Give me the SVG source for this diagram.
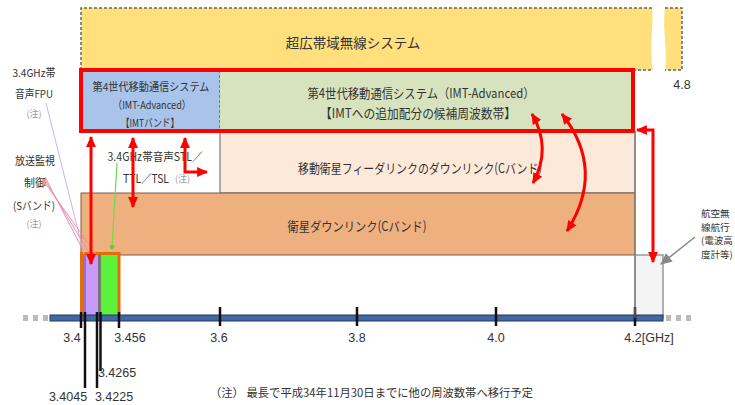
<svg xmlns="http://www.w3.org/2000/svg" width="735" height="405" viewBox="0 0 735 405">
<style>
.jp{font-family:"Noto Sans CJK JP","Noto Sans",sans-serif;fill:#333}
.num{font-family:"Liberation Sans",Arial,sans-serif;fill:#333;font-size:12.5px}
.c{text-anchor:middle;dominant-baseline:central}
.note{fill:#999;font-size:9px}
.dash{fill:none;stroke:#666;stroke-width:1.5;stroke-dasharray:3 2}
.red{fill:none;stroke:#ff0000;stroke-width:3;marker-start:url(#rh);marker-end:url(#rh)}
.tick{stroke:#111;stroke-width:2.5}
.sq{fill:#bbb}
.av{font-size:9.5px;dominant-baseline:central}
</style>
<defs>
<marker id="rh" viewBox="0 0 10 10" refX="9" refY="5" markerWidth="11" markerHeight="11" markerUnits="userSpaceOnUse" orient="auto-start-reverse"><path d="M0,0.5 L10,5 L0,9.5z" fill="#ff0000"/></marker>
<marker id="gh" viewBox="0 0 10 10" refX="9" refY="5" markerWidth="12" markerHeight="12" markerUnits="userSpaceOnUse" orient="auto"><path d="M0,0.5 L10,5 L0,9.5z" fill="#888"/></marker>
</defs>
<rect width="735" height="405" fill="#fff"/>

<g id="node-uwb">
<path d="M81,8 L652,8 C654,25 649,48 653,70 L81,70 Z" fill="#ffe07c"/>
<path class="dash" d="M81,70 L81,8 L652,8"/>
<path class="dash" d="M633,70 L652,70"/>
<path d="M665,8 L682,8 L682,70 L665,70 C668,50 662,30 665,8 Z" fill="#ffe07c"/>
<path class="dash" d="M665,8 L682,8 L682,70 L665,70"/>
<text class="jp c" x="353" y="42" font-size="13.5">超広帯域無線システム</text>
<text class="num c" x="682" y="85">4.8</text>
</g>

<g id="node-imt-band">
<rect x="81" y="70" width="139" height="61" fill="#a8c4ea"/>
<line class="dash" x1="220" y1="70" x2="220" y2="131"/>
<text class="jp c" x="151" y="86" font-size="11" textLength="117" lengthAdjust="spacingAndGlyphs">第4世代移動通信システム</text>
<text class="jp c" x="152" y="104" font-size="11" textLength="78" lengthAdjust="spacingAndGlyphs">（IMT-Advanced）</text>
<text class="jp c" x="150" y="122" font-size="11" textLength="58" lengthAdjust="spacingAndGlyphs">【IMTバンド】</text>
</g>

<g id="node-imt-candidate">
<rect x="220" y="70" width="413" height="61" fill="#d7e3bf"/>
<text class="jp c" x="421" y="92" font-size="13" textLength="227" lengthAdjust="spacingAndGlyphs">第4世代移動通信システム（IMT-Advanced）</text>
<text class="jp c" x="418" y="112" font-size="13" textLength="196" lengthAdjust="spacingAndGlyphs">【IMTへの追加配分の候補周波数帯】</text>
</g>

<g id="node-stl">
<rect x="81" y="131" width="139" height="62" fill="#fff"/>
<text class="jp c" x="155" y="156" font-size="11.5" textLength="95" lengthAdjust="spacingAndGlyphs">3.4GHz帯音声STL／</text>
<text class="jp" x="123" y="178" font-size="11.5" dominant-baseline="central" textLength="46" lengthAdjust="spacingAndGlyphs">TTL／TSL</text>
<text class="jp note" x="175" y="178" dominant-baseline="central">(注)</text>
</g>

<g id="node-mss-feeder">
<rect x="220" y="131" width="415" height="62" fill="#fde9da" stroke="#666" stroke-width="1"/>
<text class="jp c" x="420" y="167" font-size="13" textLength="244" lengthAdjust="spacingAndGlyphs">移動衛星フィーダリンクのダウンリンク(Cバンド)</text>
</g>

<g id="node-sat-downlink">
<rect x="81" y="193" width="554" height="62" fill="#eeb07e" stroke="#7a5c40" stroke-width="1"/>
<text class="jp c" x="357" y="225" font-size="13" textLength="139" lengthAdjust="spacingAndGlyphs">衛星ダウンリンク(Cバンド)</text>
</g>

<g id="node-imt-outline">
<rect x="81" y="70" width="552" height="61" fill="none" stroke="#ff0000" stroke-width="4"/>
</g>

<g id="node-aero">
<rect x="635" y="255" width="28" height="63" fill="#f4f4f4" stroke="#999" stroke-width="1.5"/>
<text class="jp av" x="701" y="213">航空無</text>
<text class="jp av" x="701" y="226.5">線航行</text>
<text class="jp av" x="701" y="240">(電波高</text>
<text class="jp av" x="701" y="253.5">度計等)</text>
</g>

<g id="node-fpu-label">
<text class="jp c" x="34" y="72" font-size="11" textLength="43" lengthAdjust="spacingAndGlyphs">3.4GHz帯</text>
<text class="jp c" x="34" y="93" font-size="11" textLength="38" lengthAdjust="spacingAndGlyphs">音声FPU</text>
<text class="jp c note" x="34" y="113">(注)</text>
</g>

<g id="node-sband-label">
<text class="jp c" x="35" y="160" font-size="11" textLength="40" lengthAdjust="spacingAndGlyphs">放送監視</text>
<text class="jp c" x="35" y="182" font-size="11">制御</text>
<text class="jp c" x="34" y="205" font-size="11" textLength="42" lengthAdjust="spacingAndGlyphs">(Sバンド)</text>
<text class="jp c note" x="34" y="223">(注)</text>
</g>

<g id="node-fpu-band">
<rect x="83" y="254" width="15" height="62" fill="#c89bfa"/>
<rect x="83" y="254" width="3" height="62" fill="#9a6cc8"/>
</g>
<g id="node-stl-band">
<rect x="98" y="254" width="3" height="62" fill="#777"/>
<rect x="101" y="254" width="17" height="62" fill="#5cf23a"/>
</g>
<g id="node-small-outline">
<rect x="81.5" y="253.5" width="37.5" height="63" fill="none" stroke="#e46c0a" stroke-width="3"/>
</g>

<g id="axis">
<rect class="sq" x="23" y="315" width="5" height="6"/>
<rect class="sq" x="33" y="315" width="5" height="6"/>
<rect class="sq" x="43" y="315" width="5" height="6"/>
<rect class="sq" x="666" y="315" width="5" height="6"/>
<rect class="sq" x="676" y="315" width="5" height="6"/>
<rect class="sq" x="686" y="315" width="5" height="6"/>
<rect x="50" y="315" width="613" height="6" fill="#4266a0" stroke="#1f3a64" stroke-width="1"/>
<line class="tick" x1="81" y1="312" x2="81" y2="328"/>
<line class="tick" x1="119" y1="312" x2="119" y2="328"/>
<line class="tick" x1="220" y1="307" x2="220" y2="326"/>
<line class="tick" x1="357" y1="307" x2="357" y2="326"/>
<line class="tick" x1="496" y1="307" x2="496" y2="326"/>
<line class="tick" x1="635" y1="307" x2="635" y2="326"/>
<line class="tick" x1="85" y1="312" x2="85" y2="388"/>
<line class="tick" x1="97" y1="312" x2="97" y2="388"/>
<line class="tick" x1="100.5" y1="312" x2="100.5" y2="371"/>
<text class="num c" x="72" y="338">3.4</text>
<text class="num c" x="130" y="338">3.456</text>
<text class="num c" x="219" y="338">3.6</text>
<text class="num c" x="357" y="338">3.8</text>
<text class="num c" x="496" y="338">4.0</text>
<text class="num c" x="649" y="338">4.2[GHz]</text>
<text class="num c" x="117" y="373">3.4265</text>
<text class="num c" x="68" y="397">3.4045</text>
<text class="num c" x="114" y="397">3.4225</text>
</g>

<g id="footnote">
<text class="jp" x="210" y="392" font-size="11.5" dominant-baseline="central" textLength="323" lengthAdjust="spacingAndGlyphs">（注） 最長で平成34年11月30日までに他の周波数帯へ移行予定</text>
</g>

<g id="connectors">
<line x1="635" y1="131" x2="635" y2="318" stroke="#777" stroke-width="1.2"/>
<line x1="46" y1="103" x2="84" y2="254" stroke="#c9b6f2" stroke-width="1"/>
<line x1="45" y1="177" x2="83" y2="250" stroke="#f08cb4" stroke-width="1"/>
<line x1="45" y1="180" x2="90" y2="254" stroke="#f08cb4" stroke-width="1"/>
<line x1="45" y1="183" x2="96" y2="254" stroke="#f08cb4" stroke-width="1"/>
<line x1="117" y1="163" x2="112" y2="247" stroke="#6ddc4a" stroke-width="1.2"/>
<circle cx="112" cy="247" r="2.2" fill="#5ccc3a"/>
<path class="red" d="M91,137 L91,264"/>
<path class="red" d="M133,138 L133,207"/>
<path class="red" d="M185,138 L185,172 L207,172"/>
<path class="red" d="M532,114 Q552,148 533,183"/>
<path class="red" d="M562,114 Q606,170 567,231"/>
<path class="red" d="M637,130 L653,130 L653,262"/>
<line x1="695" y1="237" x2="661" y2="264" stroke="#888" stroke-width="1.5" marker-end="url(#gh)"/>
</g>
</svg>
